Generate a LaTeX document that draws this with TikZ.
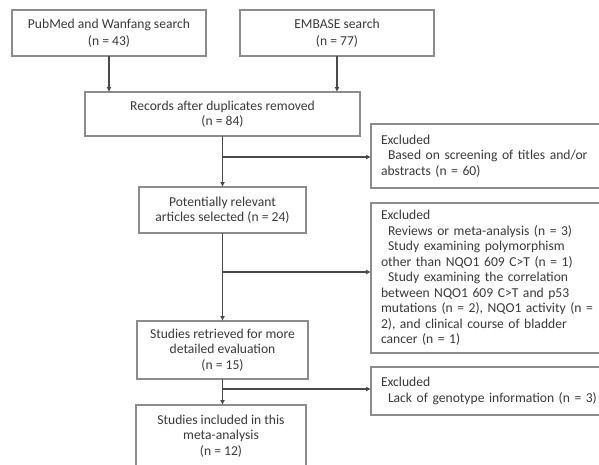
\documentclass[tikz,border=0pt]{standalone}
\usepackage{fontspec}
\setmainfont{Carlito}
\usetikzlibrary{arrows.meta}
\definecolor{boxline}{HTML}{8C8C8C}
\definecolor{conn}{HTML}{4A4A4A}
\definecolor{txt}{HTML}{3A3A3A}
\newcommand{\jl}[1]{\makebox[214pt][s]{#1}}
\newcommand{\ind}{\hspace*{7pt}}
\begin{document}
\begin{tikzpicture}[x=1pt,y=-1pt,
  box/.style={draw=boxline, line width=1.1pt, rectangle, outer sep=0pt, inner sep=0pt,
    align=center, text=txt, font=\fontsize{13.6}{15.5}\selectfont},
  exbox/.style={draw=boxline, line width=1.1pt, rectangle, outer sep=0pt, inner xsep=10pt, inner ysep=0pt,
    align=left, text width=250pt, minimum width=270pt, text=txt, font=\fontsize{13.6}{15.5}\selectfont},
  arr/.style={draw=conn, line width=1.3pt, -{Latex[length=5pt,width=5pt]}}]
\useasboundingbox (0,0) rectangle (599,464);
\clip (0,0) rectangle (599,464);
\fill[white] (0,0) rectangle (599,464);

\node[box, minimum width=194pt, minimum height=46pt] (pub) at (109,33) {PubMed and Wanfang search\\[2pt](n = 43)};
\node[box, minimum width=194pt, minimum height=46pt] (emb) at (337,33) {EMBASE search\\[2pt](n = 77)};
\node[box, minimum width=275pt, minimum height=44pt] (rec) at (222.5,114) {Records after duplicates removed\\(n = 84)};
\node[box, minimum width=167pt, minimum height=46pt] (pot) at (222.5,210) {Potentially relevant\\articles selected (n = 24)};
\node[box, minimum width=171pt, minimum height=58pt] (ret) at (222.5,350) {Studies retrieved for more\\detailed evaluation\\(n = 15)};
\node[box, minimum width=170pt, minimum height=62pt] (inc) at (221,436) {Studies included in this\\meta-analysis\\(n = 12)};

\node[exbox, minimum height=64pt, anchor=west] (ex1) at (371,156) {Excluded\\
\jl{\ind Based on screening of titles and/or}\\
abstracts (n = 60)};
\node[exbox, minimum height=150pt, anchor=west] (ex2) at (371,278) {Excluded\\
\ind Reviews or meta-analysis (n = 3)\\
\ind Study examining polymorphism\\
other than NQO1 609 C>T (n = 1)\\
\jl{\ind Study examining the correlation}\\
\jl{between NQO1 609 C>T and p53}\\
\jl{mutations (n = 2), NQO1 activity (n =}\\
\jl{2), and clinical course of bladder}\\
cancer (n = 1)};
\node[exbox, minimum height=48pt, anchor=west] (ex3) at (371,391) {Excluded\\
\ind Lack of genotype information (n = 3)};

\draw[arr] (pub.south) -- (pub.south |- rec.north);
\draw[arr] (emb.south) -- (emb.south |- rec.north);
\draw[arr] (rec.south) -- (pot.north);
\draw[arr] (pot.south) -- (ret.north);
\draw[arr] (ret.south) -- (inc.north -| ret.south);

\coordinate (j1) at (222.5,157);
\coordinate (j2) at (222.5,272);
\coordinate (j3) at (222.5,389);
\draw[arr] (j1) -- (j1 -| ex1.west);
\draw[arr] (j2) -- (j2 -| ex2.west);
\draw[arr] (j3) -- (j3 -| ex3.west);
\end{tikzpicture}
\end{document}
